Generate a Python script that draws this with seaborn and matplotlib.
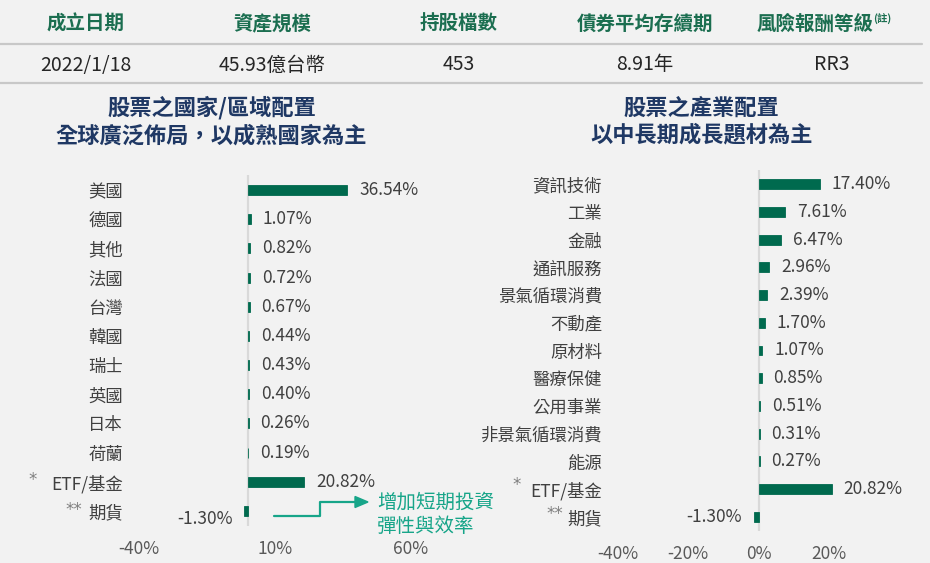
import matplotlib
matplotlib.use('Agg')
import matplotlib.pyplot as plt
from matplotlib.lines import Line2D
from matplotlib.patches import Polygon
import seaborn as sns
import pandas as pd

# ---------------- data ----------------
regions = ['美國', '德國', '其他', '法國', '台灣', '韓國', '瑞士', '英國', '日本', '荷蘭', 'ETF/基金', '期貨']
region_vals = [36.54, 1.07, 0.82, 0.72, 0.67, 0.44, 0.43, 0.40, 0.26, 0.19, 20.82, -1.30]
sectors = ['資訊技術', '工業', '金融', '通訊服務', '景氣循環消費', '不動產', '原材料', '醫療保健',
           '公用事業', '非景氣循環消費', '能源', 'ETF/基金', '期貨']
sector_vals = [17.40, 7.61, 6.47, 2.96, 2.39, 1.70, 1.07, 0.85, 0.51, 0.31, 0.27, 20.82, -1.30]
left_ticks = [-40, 10, 60]
right_ticks = [-40, -20, 0, 20]
header_labels = ['成立日期', '資產規模', '持股檔數', '債券平均存續期', '風險報酬等級']
header_note = '(註)'
header_values = ['2022/1/18', '45.93億台幣', '453', '8.91年', 'RR3']
left_title = ['股票之國家/區域配置', '全球廣泛佈局，以成熟國家為主']
right_title = ['股票之產業配置', '以中長期成長題材為主']
note_text = ['增加短期投資', '彈性與效率']
star_marks = {'ETF/基金': '*', '期貨': '**'}

# ---------------- style ----------------
BG = '#f2f2f2'
BAR = '#006a4e'
TXT = '#404040'
TICK = '#595959'
GREEN_HDR = '#1b6e50'
NAVY = '#1f3864'
TEAL = '#17a589'
LINE = '#c8c8c8'

sns.set_theme(style='white')
plt.rcParams['font.family'] = ['Noto Sans CJK TC', 'DejaVu Sans']
plt.rcParams['axes.unicode_minus'] = False

W, H = 930, 563
fig = plt.figure(figsize=(W / 100, H / 100), dpi=100, facecolor=BG)


def fx(px):
    return px / W


def fy(py):
    return 1 - py / H


# ---------------- header table ----------------
col_x = [86, 272, 459, 645, 815]
for i, (lab, val) in enumerate(zip(header_labels, header_values)):
    fig.text(fx(col_x[i]), fy(24), lab, ha='center', va='center', fontsize=14,
             fontweight='bold', color=GREEN_HDR)
    vx = col_x[i] if i < 4 else 832
    fig.text(fx(vx), fy(65), val, ha='center', va='center', fontsize=14, color='#262626')
fig.text(fx(873), fy(19), header_note, ha='left', va='center', fontsize=7.5,
         fontweight='bold', color=GREEN_HDR)
for yy in (43.5, 83):
    fig.add_artist(Line2D([fx(0), fx(922)], [fy(yy), fy(yy)], color=LINE, lw=1.6,
                          transform=fig.transFigure))

# ---------------- titles ----------------
for t, (cx, cy) in zip(left_title, [(212, 108), (211, 136)]):
    fig.text(fx(cx), fy(cy), t, ha='center', va='center', fontsize=16,
             fontweight='bold', color=NAVY)
for t, (cx, cy) in zip(right_title, [(701, 108), (702, 135)]):
    fig.text(fx(cx), fy(cy), t, ha='center', va='center', fontsize=16,
             fontweight='bold', color=NAVY)


# ---------------- bar charts ----------------
def draw(ax, cats, vals, ticks, xlim, bw, neg_dy):
    df = pd.DataFrame({'cat': cats, 'val': vals})
    ax.axvline(0, color='#d9d9d9', lw=1.6, zorder=0)
    sns.barplot(data=df, x='val', y='cat', ax=ax, color=BAR, saturation=1,
                width=bw, orient='h', zorder=2, edgecolor=BAR, linewidth=0.6)
    ax.set_facecolor(BG)
    ax.set_xlim(*xlim)
    ax.set_ylim(len(cats) - 0.5, -0.5)
    for s in ax.spines.values():
        s.set_visible(False)
    ax.set_xlabel('')
    ax.set_ylabel('')
    ax.set_xticks(ticks)
    ax.set_xticklabels([f'{t}%' for t in ticks])
    ax.tick_params(axis='x', length=0, pad=10.5, labelsize=12.5, labelcolor=TICK)
    ax.tick_params(axis='y', length=0, pad=11.5, labelsize=12.5, labelcolor=TXT)
    ax.grid(False)
    for i, v in enumerate(vals):
        if v >= 0:
            ax.annotate(f'{v:.2f}%', xy=(v, i), xytext=(8.6, 0), textcoords='offset points',
                        ha='left', va='center', fontsize=12.5, color=TXT, annotation_clip=False)
        else:
            ax.annotate(f'{v:.2f}%', xy=(v, i), xytext=(-8.6, neg_dy), textcoords='offset points',
                        ha='right', va='center', fontsize=12.5, color=TXT, annotation_clip=False)


axL = fig.add_axes([fx(139), fy(525.6), (411 - 139) / W, 350.2 / H])
draw(axL, regions, region_vals, left_ticks, (-40, 60), 0.34, -5.5)

axR = fig.add_axes([fx(618), fy(530.8), 246 / W, 360.6 / H])
draw(axR, sectors, sector_vals, right_ticks, (-40, 30), 0.36, 0)

# asterisk markers
for (x, y, s) in [(33, 480, star_marks['ETF/基金']), (74, 510, star_marks['期貨']),
                  (517, 485, star_marks['ETF/基金']), (555, 514, star_marks['期貨'])]:
    fig.text(fx(x), fy(y), s, ha='center', va='center', fontsize=12, color='#7f7f7f',
             family=['DejaVu Sans'])

# ---------------- annotation ----------------
path_x = [274, 320, 320, 357]
path_y = [516, 516, 502, 502]
fig.add_artist(Line2D([fx(p) for p in path_x], [fy(p) for p in path_y], color=TEAL, lw=1.6,
                      transform=fig.transFigure))
fig.add_artist(Polygon([[fx(355), fy(496.5)], [fx(368), fy(502)], [fx(355), fy(507.5)]],
                       closed=True, color=TEAL, transform=fig.transFigure))
for t, yy in zip(note_text, [502, 526]):
    fig.text(fx(377), fy(yy), t, ha='left', va='center', fontsize=14, color=TEAL)

fig.savefig('out.png', dpi=100, facecolor=BG)
